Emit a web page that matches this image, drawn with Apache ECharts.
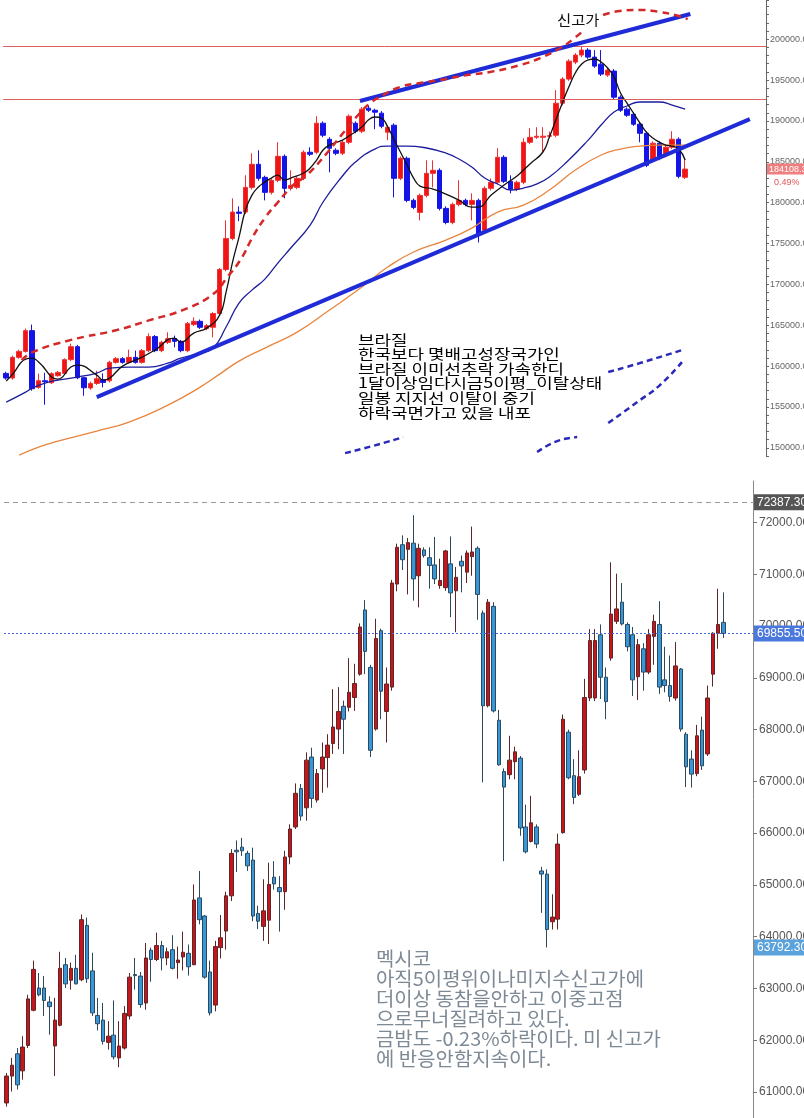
<!DOCTYPE html>
<html>
<head>
<meta charset="utf-8">
<script src="https://cdn.jsdelivr.net/npm/echarts@6/dist/echarts.min.js"></script>
<style>
  html, body { margin: 0; padding: 0; background: #fff; }
  #chart { width: 804px; height: 1118px; }
</style>
</head>
<body>
<div id="chart"></div>
<script>
// ---- 브라질 (상단) ----
const brTicks = [150000, 155000, 160000, 165000, 170000, 175000, 180000, 185000, 190000, 195000, 200000];
// [open, close, low, high]
const brCandles = [
  [159110, 158540, 158340, 159320], [158540, 161070, 158340, 161280], [161070, 161800, 160910, 162010],
  [161800, 164340, 161650, 164590], [164340, 157230, 156990, 165080], [157390, 158210, 157230, 159070],
  [158210, 158090, 155270, 159190], [157970, 159070, 157800, 159250], [158830, 159230, 158700, 159400],
  [159110, 160790, 158950, 160950], [160790, 162380, 160600, 162750], [162380, 158580, 158400, 162600],
  [158580, 157350, 156370, 158700], [157320, 157880, 157100, 158100], [157880, 158460, 157700, 159440],
  [158340, 158000, 157390, 159110], [158210, 160460, 158000, 160650], [160460, 160910, 160300, 161100],
  [160910, 160460, 160300, 161100], [160460, 161070, 160300, 162010], [161070, 160460, 160300, 161890],
  [160460, 161890, 160300, 162100], [161890, 163610, 161700, 164010], [163610, 161890, 161700, 163800],
  [161890, 162910, 161700, 163100], [162910, 163360, 162700, 164130], [163360, 163030, 162300, 163730],
  [163030, 161890, 161700, 163200], [161890, 165200, 161700, 165400], [165080, 165480, 164900, 165970],
  [165480, 164750, 164550, 165700], [164590, 164950, 164400, 165150], [164750, 166430, 163520, 166600],
  [166430, 171820, 166200, 172000], [171820, 175620, 171600, 177830], [175620, 178850, 175400, 180530],
  [178850, 178690, 177740, 179540], [178850, 181870, 178600, 183350], [181870, 184690, 181600, 186040],
  [184690, 182980, 182700, 186410], [183100, 181260, 180280, 183300], [181260, 182730, 181000, 182900],
  [182730, 185670, 182500, 187390], [185670, 181750, 180530, 185900], [181750, 182120, 181500, 183960],
  [181870, 182980, 181650, 183200], [182980, 186170, 182750, 186400], [186170, 185920, 185700, 186780],
  [186170, 189720, 185950, 190580], [189720, 188250, 188000, 189950], [187760, 186660, 183710, 188000],
  [186410, 186040, 185800, 186650], [186040, 187390, 185800, 187600], [187390, 190580, 187150, 190800],
  [189720, 188740, 188500, 189950], [188740, 191440, 188500, 191700], [191560, 191310, 191100, 191930],
  [191310, 191070, 188990, 191500], [190950, 189350, 189100, 191200], [188620, 189230, 187640, 189450],
  [189480, 182980, 180650, 189700], [182980, 185430, 182750, 185650], [185430, 180280, 180050, 185650],
  [180280, 179420, 179200, 180500], [178810, 180890, 177830, 181100], [180890, 183590, 180650, 185180],
  [183590, 183960, 181870, 185180], [183960, 179300, 179050, 184200], [179300, 177580, 177350, 179550],
  [177580, 179790, 177350, 180000], [179790, 180280, 179550, 182730], [180280, 179790, 179550, 180500],
  [179790, 180280, 177830, 181140], [180280, 176230, 175130, 180500], [176600, 181750, 176400, 182000],
  [181750, 182490, 181500, 182980], [182490, 185550, 182250, 186660], [185550, 182610, 182400, 185800],
  [182610, 181630, 181140, 183350], [181630, 182490, 181400, 182700], [182490, 187390, 182250, 187880],
  [187390, 188000, 187150, 189110], [188000, 188130, 187800, 189230], [188000, 188130, 186040, 189230],
  [188130, 188200, 187900, 188700], [188250, 192170, 188000, 193770], [192170, 195120, 191900, 195350],
  [195120, 197320, 194900, 197550], [197200, 198060, 196950, 198300], [198060, 198670, 197800, 199160],
  [198670, 197810, 197600, 198900], [197810, 196710, 196500, 198670], [196950, 195730, 195500, 198670],
  [195610, 196220, 195400, 196450], [196100, 192910, 192700, 196350], [192910, 191310, 191100, 193150],
  [191440, 190700, 190500, 191650], [190820, 189600, 189400, 191050], [189600, 188490, 187390, 189800],
  [188490, 184570, 184350, 188700], [185180, 187270, 184950, 187500], [187270, 185430, 185200, 187500],
  [185800, 186780, 185550, 187000], [186780, 187760, 186550, 188740], [187760, 183220, 182980, 188000],
  [183100, 184108, 182900, 185430]
];
// 이동평균선 [봉 번호, 값]
const brMa5 = [
  [0, 158170], [1, 159020], [3, 160860], [4, 160980], [5, 160490], [8, 158410], [10, 159880], [11, 160120],
  [14, 158900], [15, 158290], [16, 158530], [18, 160000], [21, 161100], [23, 161960], [26, 163430], [27, 162940],
  [29, 164040], [31, 164650], [33, 166240], [34, 169060], [35, 172730], [36, 175790], [37, 179100], [38, 180930],
  [39, 181910], [40, 182520], [41, 183010], [42, 183380], [43, 182770], [44, 183010], [46, 183630], [47, 184240],
  [48, 185220], [49, 186440], [50, 187050], [52, 187660], [53, 188150], [55, 189260], [56, 190110], [57, 190480],
  [58, 190360], [59, 189260], [60, 187660], [62, 184600], [63, 183010], [64, 182030], [66, 181670], [68, 181050],
  [70, 180320], [72, 179460], [73, 179460], [75, 180930], [77, 182160], [79, 183260], [80, 183990], [81, 184730],
  [83, 186200], [84, 188030], [85, 190110], [86, 192190], [87, 194150], [88, 195870], [89, 196970], [90, 197460],
  [91, 197580], [92, 197210], [93, 196480], [94, 195380], [95, 193420], [96, 192190], [97, 190970], [98, 189750],
  [99, 188640], [100, 187910], [101, 187420], [102, 187050], [103, 186930], [104, 186560], [105, 185220]
];
const brMa20 = [
  [0, 155600], [3, 156820], [4, 157310], [6, 157920], [8, 158290], [11, 158660], [14, 159150], [16, 159760],
  [19, 159880], [22, 159880], [25, 160370], [27, 160980], [30, 161590], [32, 162210], [34, 164780], [36, 167710],
  [38, 169300], [40, 170650], [42, 172610], [44, 174450], [47, 177260], [49, 180080], [52, 183260], [54, 184970],
  [57, 186560], [59, 186930], [62, 186930], [65, 186690], [68, 186070], [70, 185340], [72, 184360], [74, 183010],
  [76, 182280], [78, 181540], [80, 181790], [82, 182280], [84, 183140], [87, 185220], [90, 187660], [92, 189500],
  [94, 191090], [96, 191830], [98, 192320], [101, 192320], [103, 191950], [105, 191460]
];
const brMa60 = [
  [2, 149110], [5, 150090], [8, 150820], [14, 152050], [19, 153150], [25, 155230], [30, 157430], [33, 159020],
  [36, 160610], [40, 162210], [45, 164160], [50, 166860], [55, 169670], [59, 172120], [63, 173960], [68, 175420],
  [72, 176890], [76, 178850], [80, 179710], [84, 181540], [88, 183990], [92, 185830], [95, 186560], [98, 186930],
  [101, 187050], [105, 187050]
];
const brLevels = [199160, 192660];
const brLast = 184108;
const brLastPct = 182520;
// 손으로 그린 추세선/곡선 [봉 번호, 값]
const brSupport = [[14.0, 156210], [115.0, 190230]];
const brResist = [[54.7, 192440], [105.8, 203090]];
const brRedDash = [
  [2.4, 160740], [4.1, 161720], [9.9, 163180], [17.1, 164410], [22.2, 165630], [27.3, 166860], [32.0, 168810],
  [34.2, 170900], [36.2, 172980], [38.2, 175910], [40.0, 178120], [41.9, 179950], [44.4, 182160], [46.5, 183380],
  [49.6, 186070], [52.1, 188520], [54.7, 190970], [56.3, 192190], [58.3, 193170], [60.9, 194150], [64.0, 194640],
  [67.1, 195010], [71.3, 195620], [74.8, 195990], [79.5, 196840], [82.6, 197700], [85.7, 198930], [87.7, 200030],
  [89.2, 201010]
];
const brRedArc = [[92.3, 202960], [94.9, 203450], [98.0, 203580], [101.1, 203330], [103.4, 202960], [105.4, 202470]];
const brBlueDashA = [[93.1, 159270], [98.0, 160370], [104.5, 161960]];
const brBlueDashB = [[93.1, 153030], [97.6, 155600], [101.1, 157680], [104.5, 160490]];
const brBlueDashC = [[52.4, 149350], [56.6, 150210], [61.4, 151310]];
const brBlueDashD = [[82.1, 149480], [85.2, 150820], [88.3, 151310]];

// ---- 멕시코 (하단) ----
const mxTicks = [61000, 62000, 63000, 64000, 65000, 66000, 67000, 68000, 69000, 70000, 71000, 72000];
const mxCandles = [
  [60790, 61310, 60720, 61370], [61310, 61520, 61010, 61660], [61740, 61140, 61050, 61850], [61410, 61870, 61240, 62080],
  [61900, 62800, 61850, 62880], [62580, 63370, 62560, 63540], [63010, 62880, 62850, 63300], [63010, 62770, 62470, 63240],
  [62740, 62650, 62110, 62850], [61890, 62390, 61310, 62820], [62290, 63390, 62270, 63710], [63460, 63090, 63010, 63590],
  [63160, 63390, 62980, 63500], [63390, 63090, 63080, 63650], [63170, 64330, 63140, 64430], [64220, 63190, 63110, 64370],
  [63340, 62530, 62470, 63690], [62480, 62320, 62190, 62820], [62390, 61980, 61920, 62720], [61960, 62080, 61820, 62370],
  [62100, 61680, 61630, 62770], [61660, 61890, 61480, 62370], [61850, 62520, 61820, 62660], [62470, 63220, 62400, 63300],
  [63270, 63250, 62980, 63590], [63240, 62690, 62630, 63320], [62720, 63590, 62590, 63880], [63740, 63560, 63130, 63790],
  [63560, 63830, 63530, 64080], [63830, 63590, 63350, 63920], [63590, 63710, 63450, 63790], [63750, 63390, 63370, 64030],
  [63500, 63550, 63190, 63810], [63610, 63700, 63350, 64100], [63680, 63420, 63250, 63850], [63460, 64710, 63450, 65010],
  [64750, 64330, 64240, 65270], [64400, 63220, 63190, 64420], [63320, 62530, 62480, 63540], [62680, 63810, 62560, 63920],
  [63790, 63980, 63580, 64420], [64110, 64790, 63750, 64870], [64790, 65610, 64690, 65690], [65670, 65640, 65250, 65860],
  [65730, 65660, 65560, 65910], [65610, 65370, 65270, 65660], [65480, 64400, 64300, 65720], [64450, 64300, 64150, 64600],
  [64200, 64500, 63920, 65110], [64320, 65010, 63860, 65430], [65150, 65020, 64910, 65460], [64950, 64870, 64100, 65170],
  [64870, 65540, 64520, 65660], [65540, 66080, 65400, 66170], [66120, 66770, 66080, 66960], [66860, 66330, 66240, 66950],
  [66490, 67410, 66240, 67560], [67470, 66670, 66490, 67650], [66640, 67150, 66590, 67240], [67240, 67470, 66780, 67750],
  [67460, 67700, 66880, 67910], [67730, 68050, 67530, 68780], [68010, 68350, 67620, 68820], [68450, 68200, 67530, 68560],
  [68430, 68720, 68350, 69380], [68620, 68890, 68360, 69270], [69070, 69980, 69040, 70050], [70310, 69510, 69070, 70500],
  [69200, 67600, 67470, 69250], [68010, 69760, 67980, 70140], [69910, 68740, 68200, 69950], [68350, 68880, 67750, 69200],
  [68820, 70830, 68750, 70890], [70810, 71520, 70670, 71590], [71570, 71280, 71080, 71750], [71480, 71610, 70610, 71700],
  [71600, 70910, 70490, 72140], [70970, 71500, 70360, 71590], [71470, 71360, 71320, 71520], [71320, 71170, 70720, 71520],
  [71180, 70910, 70810, 71720], [70780, 70880, 70720, 71300], [70740, 71450, 70680, 71470], [71200, 70640, 70170, 71730],
  [70680, 70940, 69880, 71140], [71250, 71160, 70650, 71360], [71040, 71410, 70830, 71460], [71340, 71430, 70970, 71920],
  [71500, 70610, 70120, 71540], [70250, 68460, 66980, 70300], [68460, 70460, 68430, 70520], [70380, 68360, 68330, 70460],
  [68180, 67320, 67300, 68380], [67190, 66890, 65460, 67250], [67130, 67410, 67040, 67880], [67380, 67570, 67040, 67670],
  [67450, 66100, 65950, 67490], [66120, 65640, 65610, 66550], [65840, 66200, 65820, 66720], [66120, 65790, 65710, 66170],
  [65270, 65210, 64460, 65350], [65210, 64140, 63792, 65300], [64290, 64380, 64140, 64820], [64340, 65790, 64140, 65990],
  [66010, 68200, 65990, 68290], [67950, 67070, 67040, 68000], [67110, 66690, 66560, 67430], [66750, 67090, 66720, 67600],
  [67220, 68620, 67150, 68980], [68610, 69720, 68550, 69940], [68610, 69720, 68550, 69940], [69830, 69010, 68590, 70030],
  [69010, 68540, 68200, 69200], [69380, 70230, 69330, 71230], [70090, 70330, 70040, 71010], [70460, 70040, 70010, 70830],
  [70030, 69600, 69510, 70070], [69830, 68960, 68650, 69980], [69020, 69640, 68570, 69750], [69560, 69110, 68750, 69670],
  [69110, 69830, 69070, 69940], [69800, 70090, 69250, 70220], [70030, 68820, 68690, 70480], [68960, 68850, 68720, 69600],
  [68850, 68640, 68540, 69430], [68610, 69230, 68560, 69690], [69170, 68010, 67960, 69190], [67910, 67280, 66890, 67950],
  [67430, 67140, 66880, 67600], [67150, 67880, 67100, 68090], [67990, 67300, 67220, 68250], [67530, 68610, 67490, 68850],
  [69070, 69860, 68830, 69880], [69860, 70030, 69560, 70720], [70070, 69855.5, 69770, 70650]
];
const mxHigh = 72387.3;
const mxLast = 69855.5;
const mxLow = 63792.3;

const brSlots = 118;
const mxSlots = 140;

const brText = '브라질\n한국보다 몇배고성장국가인\n브라질 이미선추락 가속한디\n1달이상임다시금5이평_이탈상태\n일봉 지지선 이탈이 중기\n하락국면가고 있을 내포';
const mxText = '멕시코\n아직5이평위이나미지수신고가에\n더이상 동참을안하고 이중고점\n으로무너질려하고 있다.\n금밤도 -0.23%하락이다. 미 신고가\n에 반응안함지속이다.';

const chart = echarts.init(document.getElementById('chart'));

function hiddenAxis(extra) {
  return Object.assign({
    show: false,
    axisLine: { show: false }, axisTick: { show: false },
    axisLabel: { show: false }, splitLine: { show: false }
  }, extra);
}

function overlay(data, color, width, type, smooth) {
  return {
    type: 'line', xAxisIndex: 1, yAxisIndex: 0, data: data,
    symbol: 'none', smooth: smooth, clip: false, silent: true,
    lineStyle: { color: color, width: width, type: type }, z: 5
  };
}

function maLine(data, color) {
  return {
    type: 'line', xAxisIndex: 1, yAxisIndex: 0, data: data,
    symbol: 'none', smooth: true, silent: true,
    lineStyle: { color: color, width: 1.3 }, z: 4
  };
}

const clear = 'rgba(0,0,0,0)';

const option = {
  animation: false,
  backgroundColor: '#fff',
  textStyle: { fontFamily: 'Liberation Sans, Arial, sans-serif' },
  grid: [
    { left: 3, top: 0, width: 763, height: 456, outerBoundsMode: 'none', containLabel: false },
    { left: 4, top: 481, width: 749, height: 637, outerBoundsMode: 'none', containLabel: false }
  ],
  xAxis: [
    hiddenAxis({ type: 'category', gridIndex: 0, data: Array.from({ length: brSlots }, (_, i) => i) }),
    hiddenAxis({ type: 'value', gridIndex: 0, min: -0.5, max: brSlots - 0.5 }),
    hiddenAxis({ type: 'category', gridIndex: 1, data: Array.from({ length: mxSlots }, (_, i) => i) })
  ],
  yAxis: [
    {
      type: 'value', gridIndex: 0, position: 'right', min: 149000, max: 204800, interval: 1000,
      axisLine: { show: true, onZero: false, lineStyle: { color: '#666' } },
      axisTick: { show: true, length: 3, lineStyle: { color: '#666' } },
      axisLabel: { customValues: brTicks, color: '#666', fontSize: 9, margin: 4,
        formatter: v => v.toFixed(2) },
      splitLine: { show: false }
    },
    {
      type: 'value', gridIndex: 1, position: 'right', min: 60500, max: 72800,
      axisLine: { show: true, onZero: false, lineStyle: { color: '#888' } },
      axisTick: { show: true, length: 4, customValues: mxTicks, lineStyle: { color: '#777' } },
      axisLabel: { customValues: mxTicks, color: '#555', fontSize: 12, margin: 6,
        formatter: v => v.toFixed(2) },
      splitLine: { show: false }
    }
  ],
  series: [
    {
      type: 'candlestick', xAxisIndex: 0, yAxisIndex: 0, data: brCandles, barWidth: 5,
      itemStyle: { color: '#f01414', color0: '#1414e6', borderColor: '#f03030', borderColor0: '#1414e6', borderWidth: 1 },
      markLine: {
        symbol: ['none', 'none'], silent: true,
        data: [
          { yAxis: brLevels[0], lineStyle: { color: '#e06060', width: 1, type: 'solid' }, label: { show: false } },
          { yAxis: brLevels[1], lineStyle: { color: '#e06060', width: 1, type: 'solid' }, label: { show: false } },
          { yAxis: brLast, lineStyle: { color: clear },
            label: { show: true, position: 'end', distance: 1, formatter: '184108.32', color: '#fff',
              backgroundColor: '#ef7f7f', fontSize: 9, padding: [1, 2] } },
          { yAxis: brLastPct, lineStyle: { color: clear },
            label: { show: true, position: 'end', distance: 8, formatter: '0.49%', color: '#e05555', fontSize: 9 } }
        ]
      }
    },
    maLine(brMa60, '#e8843c'),
    maLine(brMa20, '#1c1c9c'),
    maLine(brMa5, '#111'),
    overlay(brSupport, '#1f2bd6', 4, 'solid', false),
    overlay(brResist, '#1f2bd6', 4, 'solid', false),
    overlay(brRedDash, '#d42828', 2.5, [7, 5], true),
    overlay(brRedArc, '#d42828', 2.5, [7, 5], true),
    overlay(brBlueDashA, '#2a2ab8', 2.5, [6, 4], true),
    overlay(brBlueDashB, '#2a2ab8', 2.5, [6, 4], true),
    overlay(brBlueDashC, '#2a2ab8', 2.5, [6, 4], true),
    overlay(brBlueDashD, '#2a2ab8', 2.5, [6, 4], true),
    {
      type: 'candlestick', xAxisIndex: 2, yAxisIndex: 1, data: mxCandles, barWidth: 4,
      itemStyle: { color: '#c4161c', color0: '#3797d8', borderColor: '#5e2626', borderColor0: '#2b4a60', borderWidth: 1 },
      markLine: {
        symbol: ['none', 'none'], silent: true,
        data: [
          { yAxis: mxHigh, lineStyle: { color: '#999', width: 1, type: [5, 4] },
            label: { show: true, position: 'end', distance: 1, formatter: '72387.30', color: '#fff',
              backgroundColor: '#555', fontSize: 12, padding: [2, 3] } },
          { yAxis: mxLast, lineStyle: { color: '#4a6ad0', width: 1, type: [2, 2] },
            label: { show: true, position: 'end', distance: 1, formatter: '69855.50', color: '#fff',
              backgroundColor: '#4a78dc', fontSize: 12, padding: [2, 3] } },
          { yAxis: mxLow, lineStyle: { color: clear },
            label: { show: true, position: 'end', distance: 1, formatter: '63792.30', color: '#fff',
              backgroundColor: '#5aa2dc', fontSize: 12, padding: [2, 3] } }
        ]
      }
    }
  ],
  graphic: [
    { type: 'text', x: 557, y: 13, scaleX: 1.1, z: 10,
      style: { text: '신고가', font: '14px "Noto Sans CJK KR"', fill: '#111' } },
    { type: 'text', x: 358, y: 332, scaleX: 1.28, z: 10,
      style: { text: brText, font: '14px "Noto Sans CJK KR"', lineHeight: 14.6, fill: '#000' } },
    { type: 'text', x: 376, y: 949, scaleX: 1.05, z: 10,
      style: { text: mxText, font: '19px "Noto Sans CJK KR"', lineHeight: 20, fill: '#7d8995' } }
  ]
};

chart.setOption(option);
</script>
</body>
</html>
